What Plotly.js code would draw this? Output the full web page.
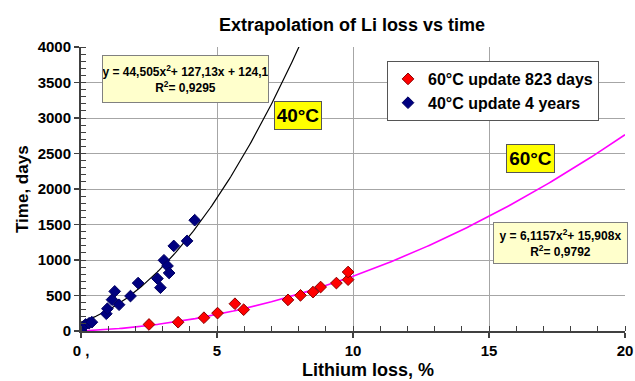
<!DOCTYPE html>
<html>
<head>
<meta charset="utf-8">
<script src="https://cdn.plot.ly/plotly-3.0.1.min.js"></script>
<style>
  html, body { margin: 0; padding: 0; background: #ffffff; }
  #chart { width: 635px; height: 381px; }
</style>
</head>
<body>
<div id="chart"></div>
<script>
// 60 °C cell: lithium loss (%) against elapsed time (days)
const loss60 = [2.50, 3.57, 4.52, 5.02, 5.66, 5.98, 7.61, 8.07, 8.53, 8.81, 9.39, 9.82, 9.82];
const days60 = [92, 124, 187, 252, 384, 300, 438, 502, 548, 619, 675, 723, 831];

// 40 °C cell: lithium loss (%) against elapsed time (days)
const loss40 = [0.00, 0.17, 0.30, 0.40, 0.93, 0.97, 1.14, 1.24, 1.40, 1.82, 2.10, 2.81, 2.92, 3.05, 3.18, 3.24, 3.41, 3.90, 4.18];
const days40 = [0, 92, 110, 124, 243, 314, 441, 558, 370, 492, 675, 738, 610, 996, 916, 817, 1198, 1269, 1561];

// Polynomial trendlines y = a*x^2 + b*x + c, as printed in the equation boxes
const fit40 = [44.505, 127.13, 124.1];
const fit60 = [6.1157, 15.908, 0];
const fitText40 = ['y = 44,505x<sup>2</sup>+ 127,13x + 124,1', 'R<sup>2</sup>= 0,9295'];
const fitText60 = ['y = 6,1157x<sup>2</sup>+ 15,908x', 'R<sup>2</sup>= 0,9792'];

// Axis ticks
const xTickVals = [0, 5, 10, 15, 20];
const xTickText = ['0 ,', '5', '10', '15', '20'];
const yTickVals = [0, 500, 1000, 1500, 2000, 2500, 3000, 3500, 4000];

const seriesNames = ['60°C update 823 days', '40°C update 4 years'];
const curveLabels = ['40°C', '60°C'];

const FONT = 'Liberation Sans, Arial, sans-serif';

function curve(coef, xmax, step) {
  const xs = [], ys = [];
  for (let x = 0; x <= xmax + 1e-9; x += step) {
    xs.push(+x.toFixed(4));
    ys.push(coef[0] * x * x + coef[1] * x + coef[2]);
  }
  return { xs, ys };
}

const c40 = curve(fit40, 8.2, 0.05);
const c60 = curve(fit60, 20, 0.1);

const traces = [
  {
    x: c40.xs, y: c40.ys, type: 'scatter', mode: 'lines',
    line: { color: '#000000', width: 1.2 }, showlegend: false, hoverinfo: 'skip'
  },
  {
    x: c60.xs, y: c60.ys, type: 'scatter', mode: 'lines',
    line: { color: '#ff00ff', width: 1.6 }, showlegend: false, hoverinfo: 'skip'
  },
  {
    x: loss60, y: days60, type: 'scatter', mode: 'markers', name: seriesNames[0],
    marker: { symbol: 'diamond', size: 9, color: '#ff0000', line: { color: '#8a0000', width: 1 } }
  },
  {
    x: loss40, y: days40, type: 'scatter', mode: 'markers', name: seriesNames[1],
    marker: { symbol: 'diamond', size: 9, color: '#000080', line: { color: '#000060', width: 1 } }
  }
];

const axisFont = { family: FONT, size: 15, color: '#000000', weight: 'bold' };

const layout = {
  width: 635, height: 381,
  margin: { l: 81, r: 10, t: 47, b: 50 },
  paper_bgcolor: '#ffffff', plot_bgcolor: '#ffffff',
  showlegend: true,
  title: {
    text: 'Extrapolation of Li loss vs time',
    font: { family: FONT, size: 18, color: '#000000', weight: 'bold' },
    x: 0.498, xref: 'paper', xanchor: 'center',
    y: 1 - 25 / 381, yref: 'container', yanchor: 'middle'
  },
  xaxis: {
    range: [0, 20], tickmode: 'array', tickvals: xTickVals, ticktext: xTickText,
    tickfont: axisFont, ticks: 'outside', ticklen: 5, tickwidth: 1.5, tickcolor: '#404040',
    showline: true, linecolor: '#404040', linewidth: 2,
    showgrid: true, gridcolor: '#a6a6a6', gridwidth: 1, zeroline: false,
    minor: { dtick: 1, ticks: 'inside', ticklen: 5, tickwidth: 1, tickcolor: '#404040', showgrid: false },
    fixedrange: true
  },
  yaxis: {
    range: [0, 4000], tickmode: 'array', tickvals: yTickVals,
    tickfont: axisFont, ticks: 'outside', ticklen: 5, tickwidth: 1.5, tickcolor: '#404040',
    showline: true, linecolor: '#404040', linewidth: 2,
    showgrid: true, gridcolor: '#a6a6a6', gridwidth: 1, zeroline: false,
    minor: { dtick: 100, ticks: 'inside', ticklen: 5, tickwidth: 1, tickcolor: '#404040', showgrid: false },
    fixedrange: true
  },
  legend: {
    x: 0.5625, y: 0.9507, xanchor: 'left', yanchor: 'top',
    bgcolor: '#ffffff', bordercolor: '#555555', borderwidth: 1,
    font: { family: FONT, size: 16, color: '#000000', weight: 'bold' }
  },
  annotations: [
    {
      text: 'Lithium loss, %', xref: 'paper', yref: 'paper', x: 0.5276, y: -0.137,
      xanchor: 'center', yanchor: 'middle', showarrow: false,
      font: { family: FONT, size: 18, color: '#000000', weight: 'bold' }
    },
    {
      text: 'Time, days', xref: 'paper', yref: 'paper', x: -0.1085, y: 0.5,
      xanchor: 'center', yanchor: 'middle', textangle: -90, showarrow: false,
      font: { family: FONT, size: 17, color: '#000000', weight: 'bold' }
    },
    {
      text: fitText40.join('<br>'), xref: 'paper', yref: 'paper', x: 0.1925, y: 0.888,
      xanchor: 'center', yanchor: 'middle', showarrow: false, align: 'center',
      width: 165, height: 46, bgcolor: '#ffffcc', bordercolor: '#808080', borderwidth: 1, borderpad: 0,
      font: { family: FONT, size: 12, color: '#000000', weight: 'bold' }
    },
    {
      text: fitText60.join('<br>'), xref: 'paper', yref: 'paper', x: 0.882, y: 0.3116,
      xanchor: 'center', yanchor: 'middle', showarrow: false, align: 'center',
      width: 133, height: 40, bgcolor: '#ffffcc', bordercolor: '#808080', borderwidth: 1, borderpad: 0,
      font: { family: FONT, size: 12, color: '#000000', weight: 'bold' }
    },
    {
      text: curveLabels[0], xref: 'paper', yref: 'paper', x: 0.3995, y: 0.7588,
      xanchor: 'center', yanchor: 'middle', showarrow: false,
      width: 46, height: 27, bgcolor: '#ffff00', bordercolor: '#555555', borderwidth: 1, borderpad: 0,
      font: { family: FONT, size: 19, color: '#000000', weight: 'bold' }
    },
    {
      text: curveLabels[1], xref: 'paper', yref: 'paper', x: 0.8263, y: 0.6063,
      xanchor: 'center', yanchor: 'middle', showarrow: false,
      width: 47, height: 27, bgcolor: '#ffff00', bordercolor: '#555555', borderwidth: 1, borderpad: 0,
      font: { family: FONT, size: 19, color: '#000000', weight: 'bold' }
    }
  ]
};

Plotly.newPlot('chart', traces, layout, { staticPlot: true, displayModeBar: false });
</script>
</body>
</html>
